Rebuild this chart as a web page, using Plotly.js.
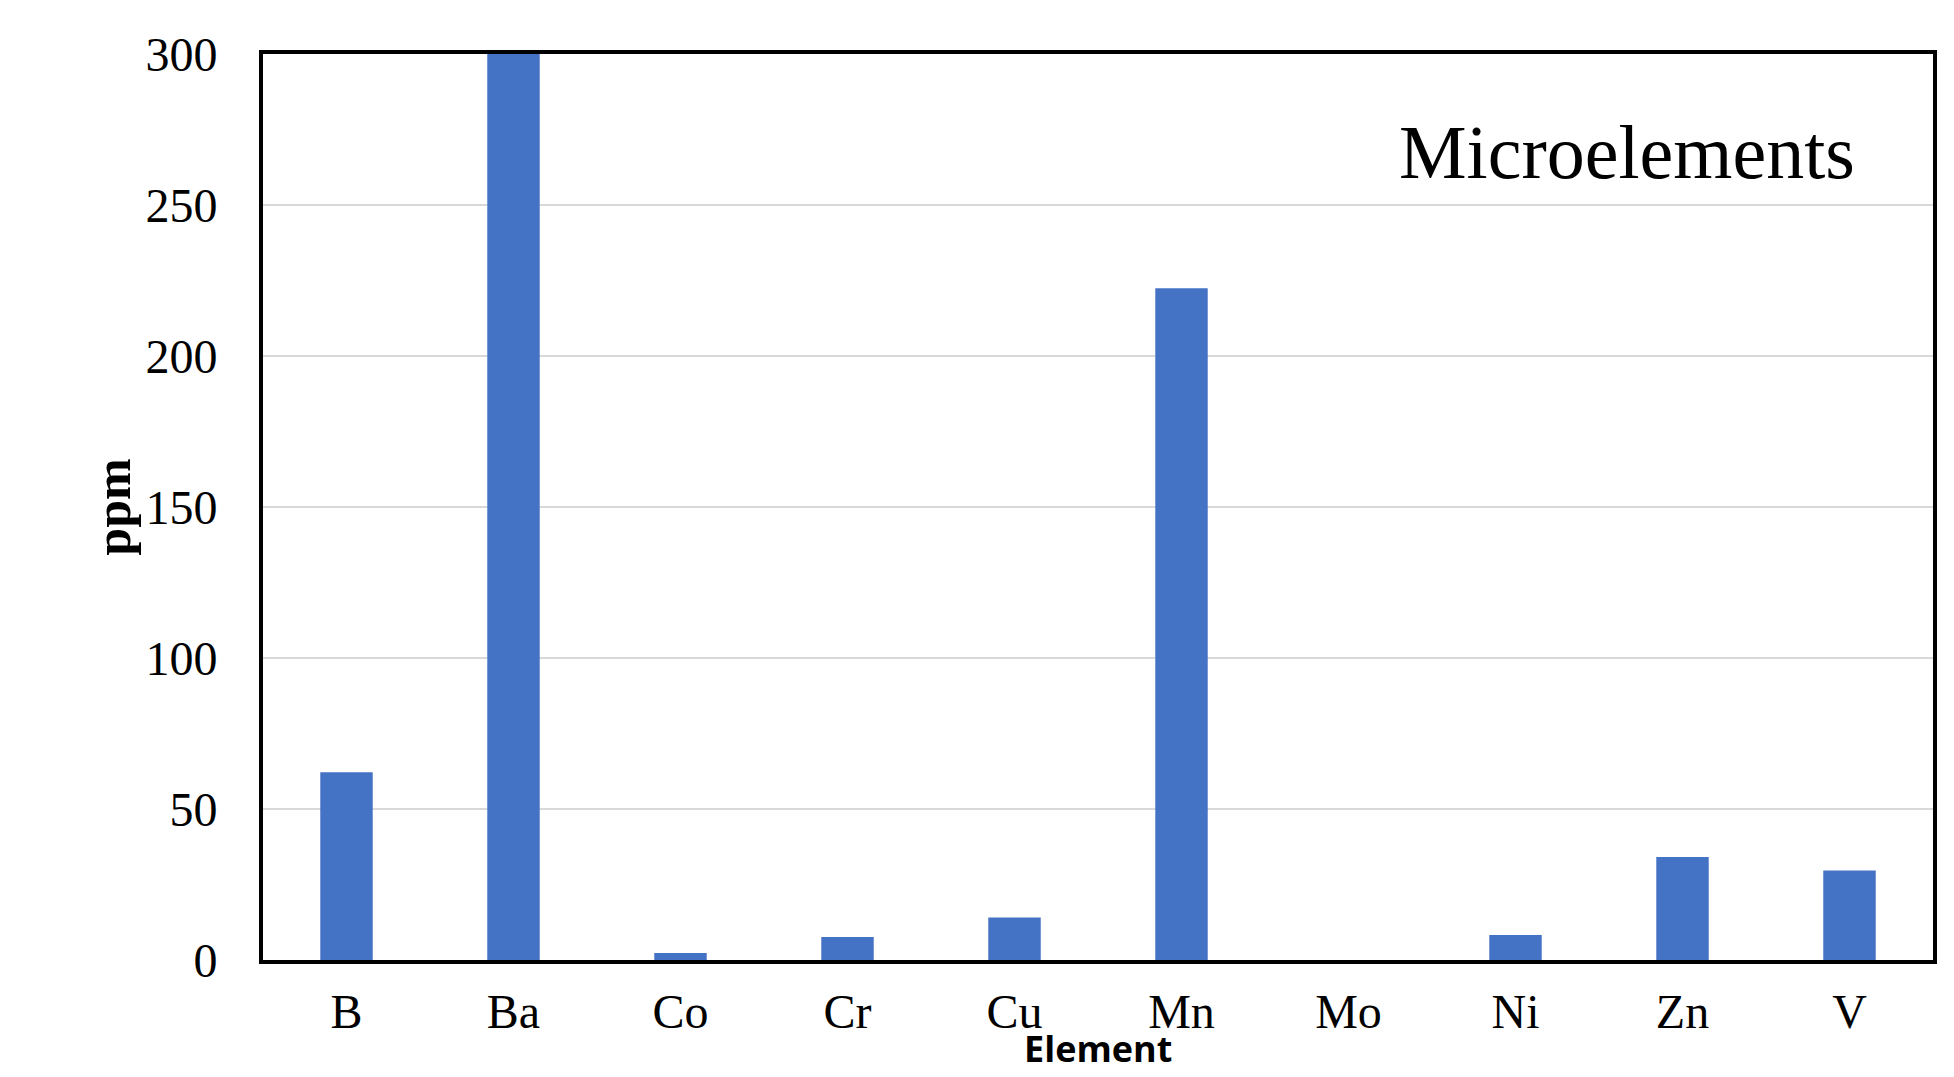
<!DOCTYPE html>
<html>
<head>
<meta charset="utf-8">
<script src="https://cdn.plot.ly/plotly-3.0.1.min.js"></script>
<style>
html,body{margin:0;padding:0;background:#fff;}
#chart{width:1954px;height:1077px;}
</style>
</head>
<body>
<div id="chart"></div>
<script>
const elements = ["B", "Ba", "Co", "Cr", "Cu", "Mn", "Mo", "Ni", "Zn", "V"];
const ppm = [62.2, 300, 2.3, 7.6, 14.1, 222.4, 0, 8.3, 34.1, 29.6];
const yTicks = [0, 50, 100, 150, 200, 250, 300];

const serif = "Liberation Serif, Times New Roman, serif";

const data = [{
  type: "bar",
  x: elements,
  y: ppm,
  marker: {color: "#4472C4", line: {width: 0}},
  hoverinfo: "x+y"
}];

const layout = {
  width: 1954,
  height: 1077,
  margin: {l: 263, r: 21, t: 54, b: 117},
  paper_bgcolor: "#ffffff",
  plot_bgcolor: "#ffffff",
  showlegend: false,
  bargap: 0.686,
  font: {family: serif, color: "#000"},
  xaxis: {
    type: "category",
    showline: true,
    linecolor: "#000",
    linewidth: 4,
    mirror: true,
    ticks: "",
    showgrid: false,
    zeroline: false,
    tickfont: {family: serif, size: 48, color: "#000"},
    ticklabelstandoff: 6
  },
  yaxis: {
    range: [0, 300],
    tickvals: yTicks,
    ticktext: yTicks.map(String),
    showline: true,
    linecolor: "#000",
    linewidth: 4,
    mirror: true,
    ticks: "",
    showgrid: true,
    gridcolor: "#d9d9d9",
    gridwidth: 1.5,
    zeroline: false,
    tickfont: {family: serif, size: 48, color: "#000"},
    ticklabelstandoff: 32,
    title: {text: "<b>ppm</b>", font: {family: serif, size: 50, color: "#000"}, standoff: 0}
  },
  annotations: [{
    text: "Microelements",
    xref: "paper", yref: "paper",
    x: 0.9545, y: 0.892,
    xanchor: "right", yanchor: "middle",
    showarrow: false,
    font: {family: serif, size: 76, color: "#000"}
  }, {
    text: "<b>Element</b>",
    xref: "paper", yref: "paper",
    x: 0.5, y: -0.098,
    xanchor: "center", yanchor: "middle",
    showarrow: false,
    borderpad: 0,
    font: {family: "Open Sans, Lato, sans-serif", size: 36, color: "#000"}
  }]
};

Plotly.newPlot("chart", data, layout, {displayModeBar: false, staticPlot: true});
</script>
</body>
</html>
